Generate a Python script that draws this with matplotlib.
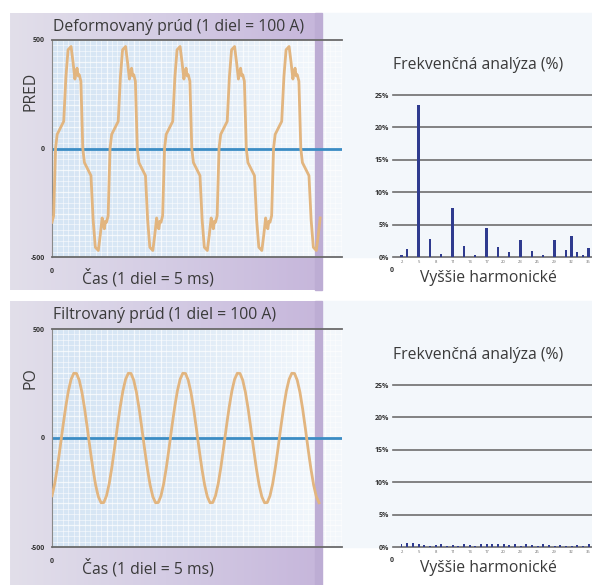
import numpy as np
import matplotlib.pyplot as plt
from matplotlib.colors import LinearSegmentedColormap
from matplotlib.patches import Rectangle

plt.rcParams['font.family'] = ['Open Sans', 'DejaVu Sans']

# ---- data -------------------------------------------------------------
# distorted current, first half of one 20 ms period (ms, A); second half is the mirror
half_t = [0.0, 0.6, 1.3, 1.9, 4.3, 5.1, 5.9, 7.0, 7.7, 8.4, 8.8, 9.2, 9.6]
half_i = [-340, -310, 0, 65, 125, 330, 455, 470, 400, 320, 350, 370, 335]

# filtered current, one 20 ms period sampled every 1 ms (A)
filt_t = list(range(20))
filt_i = [-265, -209, -132, -42, 52, 140, 215, 269, 297, 296,
          265, 209, 132, 42, -52, -140, -215, -269, -297, -296]

n_periods = 5
t_end = 98.5

# harmonic spectrum before filtering (harmonic order, %)
h_before = [2, 3, 5, 7, 9, 11, 13, 15, 17, 19, 21, 23, 25, 27, 29, 31, 32, 33, 34, 35]
p_before = [0.3, 1.3, 23.4, 2.8, 0.5, 7.6, 1.7, 0.3, 4.5, 1.6, 0.7, 2.6, 1.0, 0.3,
            2.6, 1.1, 3.2, 0.8, 0.3, 1.4]

# after filtering
h_after = list(range(2, 36))
p_after = [0.5, 0.6, 0.6, 0.4, 0.3, 0.2, 0.3, 0.5, 0.2, 0.3, 0.2, 0.4, 0.3, 0.2, 0.4, 0.5, 0.4,
           0.5, 0.4, 0.3, 0.5, 0.2, 0.4, 0.3, 0.2, 0.4, 0.3, 0.2, 0.3, 0.2, 0.2, 0.3, 0.2, 0.4]

harm_ticks = [2, 5, 8, 11, 14, 17, 20, 23, 26, 29, 32, 35]
pct_ticks = [0, 5, 10, 15, 20, 25]
amp_ticks = [-500, 0, 500]


def periodic(t_one, v_one, period):
    t = np.concatenate([np.asarray(t_one) + period * k for k in range(n_periods)])
    v = np.tile(v_one, n_periods)
    keep = t <= t_end
    return t[keep], v[keep]


full_t = half_t + [x + 10 for x in half_t]
full_i = half_i + [-x for x in half_i]
t_def, i_def = periodic(full_t, full_i, 20)
t_flt, i_flt = periodic(filt_t, filt_i, 20)

# ---- figure -----------------------------------------------------------
W, H = 592, 585
fig = plt.figure(figsize=(W / 100, H / 100), dpi=100)
bg = fig.add_axes([0, 0, 1, 1], zorder=-1)
bg.set_xlim(0, W)
bg.set_ylim(H, 0)
bg.axis('off')


def frac(x0, y0, x1, y1):
    return [x0 / W, 1 - y1 / H, (x1 - x0) / W, (y1 - y0) / H]


def hgrad(x0, x1, y0, y1, colors, z=0):
    cmap = LinearSegmentedColormap.from_list('g', colors)
    bg.imshow(np.linspace(0, 1, 256).reshape(1, -1), cmap=cmap, aspect='auto',
              extent=(x0, x1, y1, y0), interpolation='bilinear', zorder=z)


txt = '#3a3a3a'
fs = 11.3
panels = [
    dict(top=13, bot=290, y500=40, ym500=257, title_y=27, lab_y=278, side_y=91, side='PRED',
         rtop=95, rzero=257, rtitle_y=65, title='Deformovaný prúd (1 diel = 100 A)',
         t=t_def, i=i_def, h=h_before, p=p_before, bw=0.4),
    dict(top=301, bot=585, y500=329, ym500=547, title_y=315, lab_y=568, side_y=378, side='PO',
         rtop=385, rzero=547, rtitle_y=355, title='Filtrovaný prúd (1 diel = 100 A)',
         t=t_flt, i=i_flt, h=h_after, p=p_after, bw=0.35),
]

px_per_ms = 2.725
for P in panels:
    # frame and backgrounds
    hgrad(10, 322, P['top'], P['bot'], ['#e2dfea', '#d4cce4', '#c6b6db'], z=0)
    hgrad(52, 315, P['y500'], P['ym500'], ['#d6e5f4', '#dae8f6', '#e4eef8', '#f2f7fc'], z=1)
    bg.add_patch(Rectangle((322, P['top']), W - 322, P['rzero'] - P['top'],
                           color='#f3f7fb', zorder=0))

    ax = fig.add_axes(frac(52, P['y500'], 342, P['ym500']))
    ax.set_facecolor('none')
    xmax = (342 - 52) / px_per_ms
    ax.set_xlim(0, xmax)
    ax.set_ylim(-500, 500)
    for x in np.arange(0, xmax, 2.0):
        ax.axvline(x, color='white', lw=0.5 if x % 10 else 0.9, alpha=0.7, zorder=1)
    for y in np.arange(-500, 501, 25):
        ax.axhline(y, color='white', lw=0.5 if y % 100 else 0.9, alpha=0.7, zorder=1)
    ax.add_patch(Rectangle((315, P['top']), 7, P['bot'] - P['top'], transform=bg.transData,
                           color='#bdadd4', zorder=1.5, clip_on=False))
    ax.axhline(0, color='#3b8cc4', lw=2, zorder=2)
    ax.plot(P['t'], P['i'], color='#e2b57f', lw=2.0, zorder=3, solid_joinstyle='round')
    for s in ['top', 'bottom']:
        ax.spines[s].set_color('#6a6a6a')
        ax.spines[s].set_linewidth(1.3)
    ax.spines['left'].set_color('#8a8a8a')
    ax.spines['right'].set_visible(False)
    ax.set_yticks(amp_ticks, [str(v) for v in amp_ticks])
    ax.set_xticks([0], ['0'])
    ax.tick_params(axis='y', length=0, pad=5, labelsize=5, labelcolor='#333')
    ax.tick_params(axis='x', length=0, pad=8, labelsize=5, labelcolor='#333')
    for lab in ax.get_xticklabels() + ax.get_yticklabels():
        lab.set_fontweight('bold')

    fig.text(53 / W, 1 - P['title_y'] / H, P['title'], ha='left', va='center',
             fontsize=fs, color=txt)
    fig.text(30 / W, 1 - P['side_y'] / H, P['side'], rotation=90, ha='center', va='center',
             fontsize=fs, color=txt)
    fig.text(82 / W, 1 - P['lab_y'] / H, 'Čas (1 diel = 5 ms)', ha='left', va='center',
             fontsize=fs, color=txt)

    # spectrum
    rx = fig.add_axes(frac(393, P['rtop'], 592, P['rzero']))
    rx.set_facecolor('none')
    rx.set_xlim(0.5, 35.6)
    rx.set_ylim(0, 25)
    for s in rx.spines.values():
        s.set_visible(False)
    for y in pct_ticks:
        rx.axhline(y, color='#6e6e6e', lw=1.2, zorder=1, clip_on=False)
    rx.bar(P['h'], P['p'], width=P['bw'], color='#2f3b8f', zorder=3)
    rx.set_yticks(pct_ticks, [f'{v}%' for v in pct_ticks])
    rx.set_xticks(harm_ticks, [str(v) for v in harm_ticks])
    rx.tick_params(axis='y', length=0, pad=3, labelsize=5, labelcolor='#333')
    rx.tick_params(axis='x', length=0, pad=2, labelsize=3, labelcolor='#666')
    for lab in rx.get_yticklabels():
        lab.set_fontweight('bold')
    bg.text(392, P['rzero'] + 13, '0', fontsize=5, fontweight='bold', color='#333',
            ha='center', va='center')
    fig.text(478 / W, 1 - P['rtitle_y'] / H, 'Frekvenčná analýza (%)', ha='center',
             va='center', fontsize=fs, color=txt)
    fig.text(488 / W, 1 - P['lab_y'] / H, 'Vyššie harmonické', ha='center', va='center',
             fontsize=fs, color=txt)

fig.savefig('out.png', dpi=100)
